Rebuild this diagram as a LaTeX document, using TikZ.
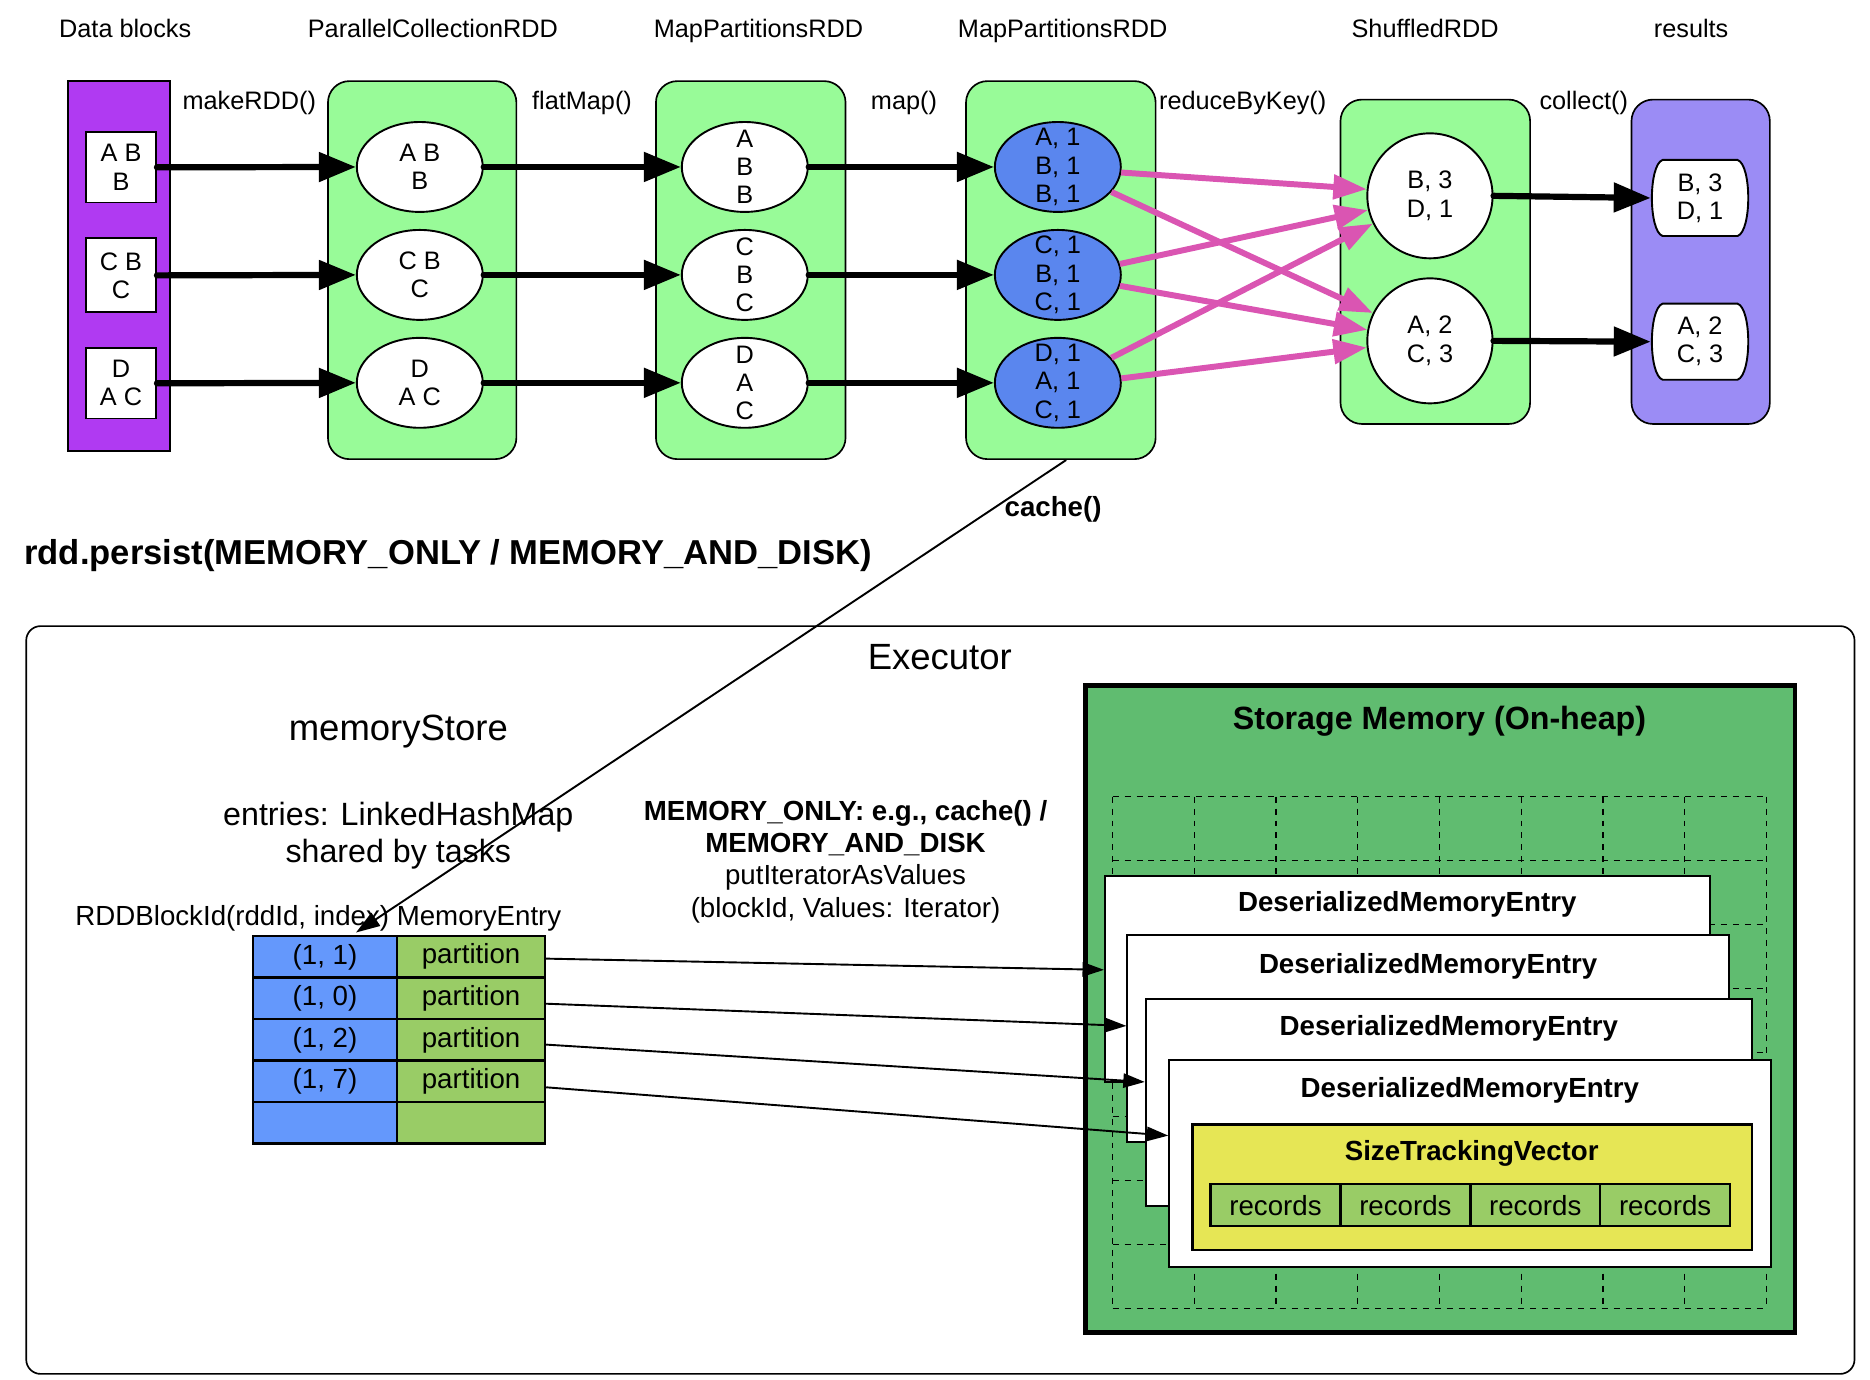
\documentclass[tikz,border=0pt]{standalone}
\usepackage{fontspec}
\setmainfont{Liberation Sans}
\usetikzlibrary{arrows.meta,shapes.geometric,calc}
\definecolor{dataPurple}{RGB}{176,58,242}
\definecolor{rddGreen}{RGB}{152,251,152}
\definecolor{partBlue}{RGB}{90,134,238}
\definecolor{resPurple}{RGB}{155,140,245}
\definecolor{shufPink}{RGB}{218,85,178}
\definecolor{storeGreen}{RGB}{96,188,112}
\definecolor{tabBlue}{RGB}{100,152,252}
\definecolor{tabGreen}{RGB}{153,204,102}
\definecolor{vecYellow}{RGB}{230,230,85}
\newcommand{\fsTop}{\fontsize{10.6}{11.8}\selectfont}
\newcommand{\fsMid}{\fontsize{11.6}{13.5}\selectfont}
\newcommand{\fsEnt}{\fontsize{13.5}{15.5}\selectfont}
\newcommand{\fsBig}{\fontsize{15.3}{18}\selectfont}
\newcommand{\fsPersist}{\fontsize{14.5}{17}\selectfont}
\begin{document}
\begin{tikzpicture}[x=0.5pt,y=-0.5pt,
  toplbl/.style={inner sep=0pt, anchor=base, font=\fsTop},
  midlbl/.style={inner sep=0pt, anchor=base, font=\fsMid},
  ntxt/.style={inner sep=0pt, align=center, font=\fsTop},
  rddbox/.style={draw, line width=0.7pt, fill=rddGreen, rounded corners=9pt, minimum width=79pt, minimum height=158.5pt, inner sep=0pt},
  blockbox/.style={draw, line width=0.8pt, fill=white, minimum width=29.3pt, minimum height=29.5pt, inner sep=0pt},
  ellw/.style={ellipse, draw, line width=0.8pt, fill=white, minimum width=52.8pt, minimum height=37.7pt, inner sep=0pt},
  ellb/.style={ellw, fill=partBlue},
  ellbig/.style={ellipse, draw, line width=0.8pt, fill=white, minimum width=52.5pt, minimum height=52.4pt, inner sep=0pt},
  resframe/.style={draw=none, minimum width=41pt, minimum height=31.5pt, inner sep=0pt},
  resline/.style={draw, line width=0.8pt, fill=white},
  bigarrow/.style={line width=2.6pt, line cap=round, -{Triangle[length=15.5pt,width=12pt]}},
  pinkarrow/.style={draw=shufPink, line width=2.5pt, -{Triangle[length=14pt,width=10pt]}},
  thinarrow/.style={line width=0.8pt, -{Triangle[length=9pt,width=6pt]}},
  cellb/.style={draw, line width=1pt, fill=tabBlue, minimum width=60.5pt, minimum height=17.4pt, inner sep=0pt, font=\fsMid},
  cellg/.style={draw, line width=1pt, fill=tabGreen, minimum width=62pt, minimum height=17.4pt, inner sep=0pt, font=\fsMid},
  reccell/.style={draw, line width=1pt, fill=tabGreen, minimum width=54.45pt, minimum height=17.5pt, inner sep=0pt, font=\fsMid},
  dmebox/.style={draw, line width=0.8pt, fill=white, inner sep=0pt},
  gridln/.style={line width=0.55pt, dash pattern=on 2.5pt off 2.5pt}
]
\useasboundingbox (0,0) rectangle (1568,1157);

% ---------------- headers
\node[toplbl] (hData) at (105,31.5) {Data blocks};
\node[toplbl] (hPar) at (363,31.5) {ParallelCollectionRDD};
\node[toplbl] (hMapA) at (636,31.5) {MapPartitionsRDD};
\node[toplbl] (hMapB) at (891,31.5) {MapPartitionsRDD};
\node[toplbl] (hShuf) at (1195,31.5) {ShuffledRDD};
\node[toplbl] (hRes) at (1418,31.5) {results};

% ---------------- containers
\node[draw, line width=0.8pt, fill=dataPurple, minimum width=42.8pt, minimum height=155.3pt, inner sep=0pt] (dataCol) at (100,223) {};
\node[rddbox] (gPar) at (354,226.5) {};
\node[rddbox, minimum width=79.5pt] (gMapA) at (629.5,226.5) {};
\node[rddbox, minimum width=79.5pt] (gMapB) at (889.5,226.5) {};
\node[rddbox, minimum width=79.5pt, minimum height=136pt] (gShuf) at (1203.5,219.5) {};
\node[rddbox, fill=resPurple, minimum width=58pt, minimum height=136pt] (gRes) at (1426,219.5) {};

% operation labels
\node[toplbl] (lMake) at (209,92) {makeRDD()};
\node[toplbl] (lFlat) at (488,92) {flatMap()};
\node[toplbl] (lMap) at (758,92) {map()};
\node[toplbl] (lReduce) at (1042,92) {reduceByKey()};
\node[toplbl] (lCollect) at (1328,92) {collect()};

% data blocks
\node[blockbox] (d1) at (101.5,140.3) {};
\node[blockbox, minimum height=31pt] (d2) at (101.5,230.9) {};
\node[blockbox] (d3) at (101.5,321.4) {};
\node[ntxt] (d1t) at (d1.center) {A B\\B};
\node[ntxt] (d2t) at (d2.center) {C B\\C};
\node[ntxt] (d3t) at (d3.center) {D\\A C};

% ParallelCollectionRDD partitions
\node[ellw] (p1) at (352,140) {};
\node[ellw] (p2) at (352,230.5) {};
\node[ellw] (p3) at (352,321) {};
\node[ntxt] (p1t) at (p1.center) {A B\\B};
\node[ntxt] (p2t) at (p2.center) {C B\\C};
\node[ntxt] (p3t) at (p3.center) {D\\A C};

% MapPartitionsRDD (flatMap)
\node[ellw] (m1) at (624.5,140) {};
\node[ellw] (m2) at (624.5,230.5) {};
\node[ellw] (m3) at (624.5,321) {};
\node[ntxt] (m1t) at (m1.center) {A\\B\\B};
\node[ntxt] (m2t) at (m2.center) {C\\B\\C};
\node[ntxt] (m3t) at (m3.center) {D\\A\\C};

% MapPartitionsRDD (map)
\node[ellb] (b1) at (887,140) {};
\node[ellb] (b2) at (887,230.5) {};
\node[ellb] (b3) at (887,321) {};
\node[ntxt] (b1t) at (b1.center) {A, 1\\B, 1\\B, 1};
\node[ntxt] (b2t) at (b2.center) {C, 1\\B, 1\\C, 1};
\node[ntxt] (b3t) at (b3.center) {D, 1\\A, 1\\C, 1};

% ShuffledRDD
\node[ellbig] (s1) at (1199,164.2) {};
\node[ellbig] (s2) at (1199,285.8) {};
\node[ntxt] (s1t) at (s1.center) {B, 3\\D, 1};
\node[ntxt] (s2t) at (s2.center) {A, 2\\C, 3};

% results
\node[resframe] (r1) at (1425.5,166) {};
\node[resframe] (r2) at (1425.5,286.5) {};
\foreach \r in {r1,r2}{
  \draw[resline] ($(\r.north west)+(10,0)$) -- ($(\r.north east)+(-10,0)$)
    .. controls ($(\r.north east)+(2,4)$) and ($(\r.south east)+(2,-4)$) .. ($(\r.south east)+(-10,0)$)
    -- ($(\r.south west)+(10,0)$)
    .. controls ($(\r.south west)+(-2,-4)$) and ($(\r.north west)+(-2,4)$) .. cycle;
}
\node[ntxt] (r1t) at (r1.center) {B, 3\\D, 1};
\node[ntxt] (r2t) at (r2.center) {A, 2\\C, 3};

% black arrows
\draw[bigarrow] (d1.east) -- (p1.west);
\draw[bigarrow] (d2.east) -- (p2.west);
\draw[bigarrow] (d3.east) -- (p3.west);
\draw[bigarrow] (p1.east) -- (m1.west);
\draw[bigarrow] (p2.east) -- (m2.west);
\draw[bigarrow] (p3.east) -- (m3.west);
\draw[bigarrow] (m1.east) -- (b1.west);
\draw[bigarrow] (m2.east) -- (b2.west);
\draw[bigarrow] (m3.east) -- (b3.west);
\draw[bigarrow] (s1.east) -- (r1.west);
\draw[bigarrow] (s2.east) -- (r2.west);

% shuffle arrows
\draw[pinkarrow] (b1.-5) -- (s1.174);
\draw[pinkarrow] (b1.-25) -- (s2.154);
\draw[pinkarrow] (b2.10) -- (s1.193);
\draw[pinkarrow] (b2.-10) -- (s2.170);
\draw[pinkarrow] (b3.25) -- (s1.206);
\draw[pinkarrow] (b3.4) -- (s2.186);

% ---------------- lower part
\node[inner sep=0pt, anchor=base west, font=\fsPersist\bfseries] (persist) at (20,473.5) {rdd.persist(MEMORY\_ONLY / MEMORY\_AND\_DISK)};

\node[draw, line width=0.7pt, fill=white, rounded corners=6pt, minimum width=766.5pt, minimum height=313.5pt, inner sep=0pt] (exec) at (788.5,838.5) {};
\node[inner sep=0pt, anchor=base, font=\fsBig] (execT) at (788,561) {Executor};
\node[inner sep=0pt, anchor=base, font=\fsBig] (msT) at (334,621) {memoryStore};
\node[inner sep=0pt, anchor=base, font=\fsEnt] (entT) at (334,692.5) {entries: LinkedHashMap};
\node[inner sep=0pt, anchor=base, font=\fsEnt] (shT) at (334,723.5) {shared by tasks};
\node[midlbl] (keyT) at (267,776) {RDDBlockId(rddId, index) MemoryEntry};

\node[midlbl, font=\fsMid\bfseries] (mo1) at (709,688) {MEMORY\_ONLY: e.g., cache() /};
\node[midlbl, font=\fsMid\bfseries] (mo2) at (709,715) {MEMORY\_AND\_DISK};
\node[midlbl] (mo3) at (709,742) {putIteratorAsValues};
\node[midlbl] (mo4) at (709,769) {(blockId, Values: Iterator)};

% table
\node[cellb] (tb1) at (272.5,802.3) {(1, 1)};
\node[cellb] (tb2) at (272.5,837.1) {(1, 0)};
\node[cellb] (tb3) at (272.5,871.9) {(1, 2)};
\node[cellb] (tb4) at (272.5,906.7) {(1, 7)};
\node[cellb] (tb5) at (272.5,941.5) {};
\node[cellg] (tg1) at (395,802.3) {partition};
\node[cellg] (tg2) at (395,837.1) {partition};
\node[cellg] (tg3) at (395,871.9) {partition};
\node[cellg] (tg4) at (395,906.7) {partition};
\node[cellg] (tg5) at (395,941.5) {};

% storage memory
\node[draw, line width=2pt, fill=storeGreen, minimum width=297.5pt, minimum height=271pt, inner sep=0pt] (store) at (1207.5,846) {};
\node[inner sep=0pt, anchor=base, font=\fsEnt\bfseries] (storeT) at (1207,611.5) {Storage Memory (On-heap)};
\foreach \i in {0,...,8}{
  \draw[gridln] (933+68.5*\i,668) -- (933+68.5*\i,1097);
  \draw[gridln] (933,668+53.625*\i) -- (1481,668+53.625*\i);
}

\node[dmebox, minimum width=253.75pt, minimum height=86.25pt] (dme1) at (1180.25,820.75) {};
\node[midlbl, font=\fsMid\bfseries] (dme1t) at (1180,764) {DeserializedMemoryEntry};
\node[dmebox, minimum width=252.2pt, minimum height=86.8pt] (dme2) at (1197.5,870.8) {};
\node[midlbl, font=\fsMid\bfseries] (dme2t) at (1197.5,816) {DeserializedMemoryEntry};
\node[dmebox, minimum width=254.15pt, minimum height=86.5pt] (dme3) at (1214.85,924.5) {};
\node[midlbl, font=\fsMid\bfseries] (dme3t) at (1214.85,868) {DeserializedMemoryEntry};
\node[dmebox, minimum width=252.15pt, minimum height=86.75pt] (dme4) at (1232.55,975.25) {};
\node[midlbl, font=\fsMid\bfseries] (dme4t) at (1232.5,920) {DeserializedMemoryEntry};

\node[draw, line width=1pt, fill=vecYellow, minimum width=234.6pt, minimum height=52.5pt, inner sep=0pt] (vec) at (1234.4,995.5) {};
\node[midlbl, font=\fsMid\bfseries] (vecT) at (1234,973) {SizeTrackingVector};
\node[reccell] (rc1) at (1069.5,1010.5) {records};
\node[reccell] (rc2) at (1178.4,1010.5) {records};
\node[reccell] (rc3) at (1287.3,1010.5) {records};
\node[reccell] (rc4) at (1396.2,1010.5) {records};

% arrows into entries
\coordinate (in1) at ($(dme1.north west)+(0,79.5)$);
\coordinate (in2) at ($(dme2.north west)+(0,77)$);
\coordinate (in3) at ($(dme3.north west)+(0,70)$);
\coordinate (in4) at ($(dme4.north west)+(0,64.5)$);
\draw[thinarrow] ($(tg1.east)+(0,1.5)$) -- (in1);
\draw[thinarrow] ($(tg2.east)+(0,4.5)$) -- (in2);
\draw[thinarrow] ($(tg3.east)+(0,4)$) -- (in3);
\draw[thinarrow] ($(tg4.east)+(0,5)$) -- (in4);

% cache() connector
\node[midlbl, font=\fsMid\bfseries] (cacheT) at (883,433) {cache()};
\coordinate (cacheEnd) at ($(tb1.north)+(26,-2)$);
\draw[line width=0.8pt, -{Triangle[length=10pt,width=6.5pt]}] ($(gMapB.south)+(4.5,0)$) -- (cacheEnd);
\end{tikzpicture}
\end{document}
